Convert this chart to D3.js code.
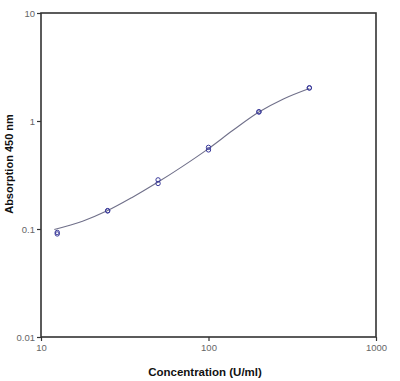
<!DOCTYPE html>
<html><head><meta charset="utf-8">
<script src="https://cdn.jsdelivr.net/npm/d3@7"></script>
<style>body{margin:0;background:#fff}</style>
</head><body>
<script>
const concentrations = [12.5, 12.5, 25, 25, 50, 50, 100, 100, 200, 200, 400, 400];
const absorbance = [0.093, 0.090, 0.147, 0.148, 0.285, 0.264, 0.57, 0.54, 1.21, 1.22, 2.02, 2.03];
const curveX = [12, 17.7, 25, 35, 50, 70, 100, 140, 200, 280, 400];
const curveY = [0.099, 0.118, 0.148, 0.196, 0.272, 0.38, 0.555, 0.82, 1.21, 1.6, 2.0];
const xTicks = [10, 100, 1000];
const yTicks = [0.01, 0.1, 1, 10];
const xTickLabels = ["10", "100", "1000"];
const yTickLabels = ["0.01", "0.1", "1", "10"];

const W = 400, H = 381;
const L = 41, R = 376, T = 13, B = 337;
const svg = d3.select("body").append("svg").attr("width", W).attr("height", H);
const x = d3.scaleLog().domain([10, 1000]).range([L, R]);
const y = d3.scaleLog().domain([0.01, 10]).range([B, T]);

const xAxis = svg.append("g").attr("transform", `translate(0,${B})`)
  .call(d3.axisBottom(x).tickValues(xTicks).tickFormat((d,i)=>xTickLabels[i]).tickSize(4).tickPadding(3));
const yAxis = svg.append("g").attr("transform", `translate(${L},0)`)
  .call(d3.axisLeft(y).tickValues(yTicks).tickFormat((d,i)=>yTickLabels[i]).tickSize(4).tickPadding(2));
[xAxis, yAxis].forEach(g => {
  g.select(".domain").remove();
  g.selectAll(".tick line").attr("stroke", "#333").attr("stroke-width", 1.2);
  g.selectAll(".tick text").attr("fill", "#666").style("font-family", "Liberation Sans, Arial, sans-serif").style("font-size", "9.5px");
});

svg.append("rect").attr("x", L).attr("y", T).attr("width", R - L).attr("height", B - T)
  .attr("fill", "none").attr("stroke", "#333").attr("stroke-width", 1.6);

const line = d3.line().x(d => x(d[0])).y(d => y(d[1])).curve(d3.curveMonotoneX);
svg.append("path").datum(curveX.map((c, i) => [c, curveY[i]]))
  .attr("d", line).attr("fill", "none").attr("stroke", "#70708a").attr("stroke-width", 1.1);

svg.selectAll("circle.pt").data(concentrations.map((c, i) => [c, absorbance[i]]))
  .enter().append("circle").attr("class", "pt")
  .attr("cx", d => x(d[0])).attr("cy", d => y(d[1])).attr("r", 2.2)
  .attr("fill", "none").attr("stroke", "#3a3a9a").attr("stroke-width", 1);

svg.append("text").attr("x", 205).attr("y", 376).attr("text-anchor", "middle")
  .style("font-family", "Liberation Sans, Arial, sans-serif").style("font-size", "11.5px").style("font-weight", "bold")
  .attr("fill", "#111").text("Concentration (U/ml)");
svg.append("text").attr("transform", "translate(13,164) rotate(-90)").attr("text-anchor", "middle")
  .style("font-family", "Liberation Sans, Arial, sans-serif").style("font-size", "11px").style("font-weight", "bold")
  .attr("fill", "#111").text("Absorption 450 nm");
</script>
</body></html>
